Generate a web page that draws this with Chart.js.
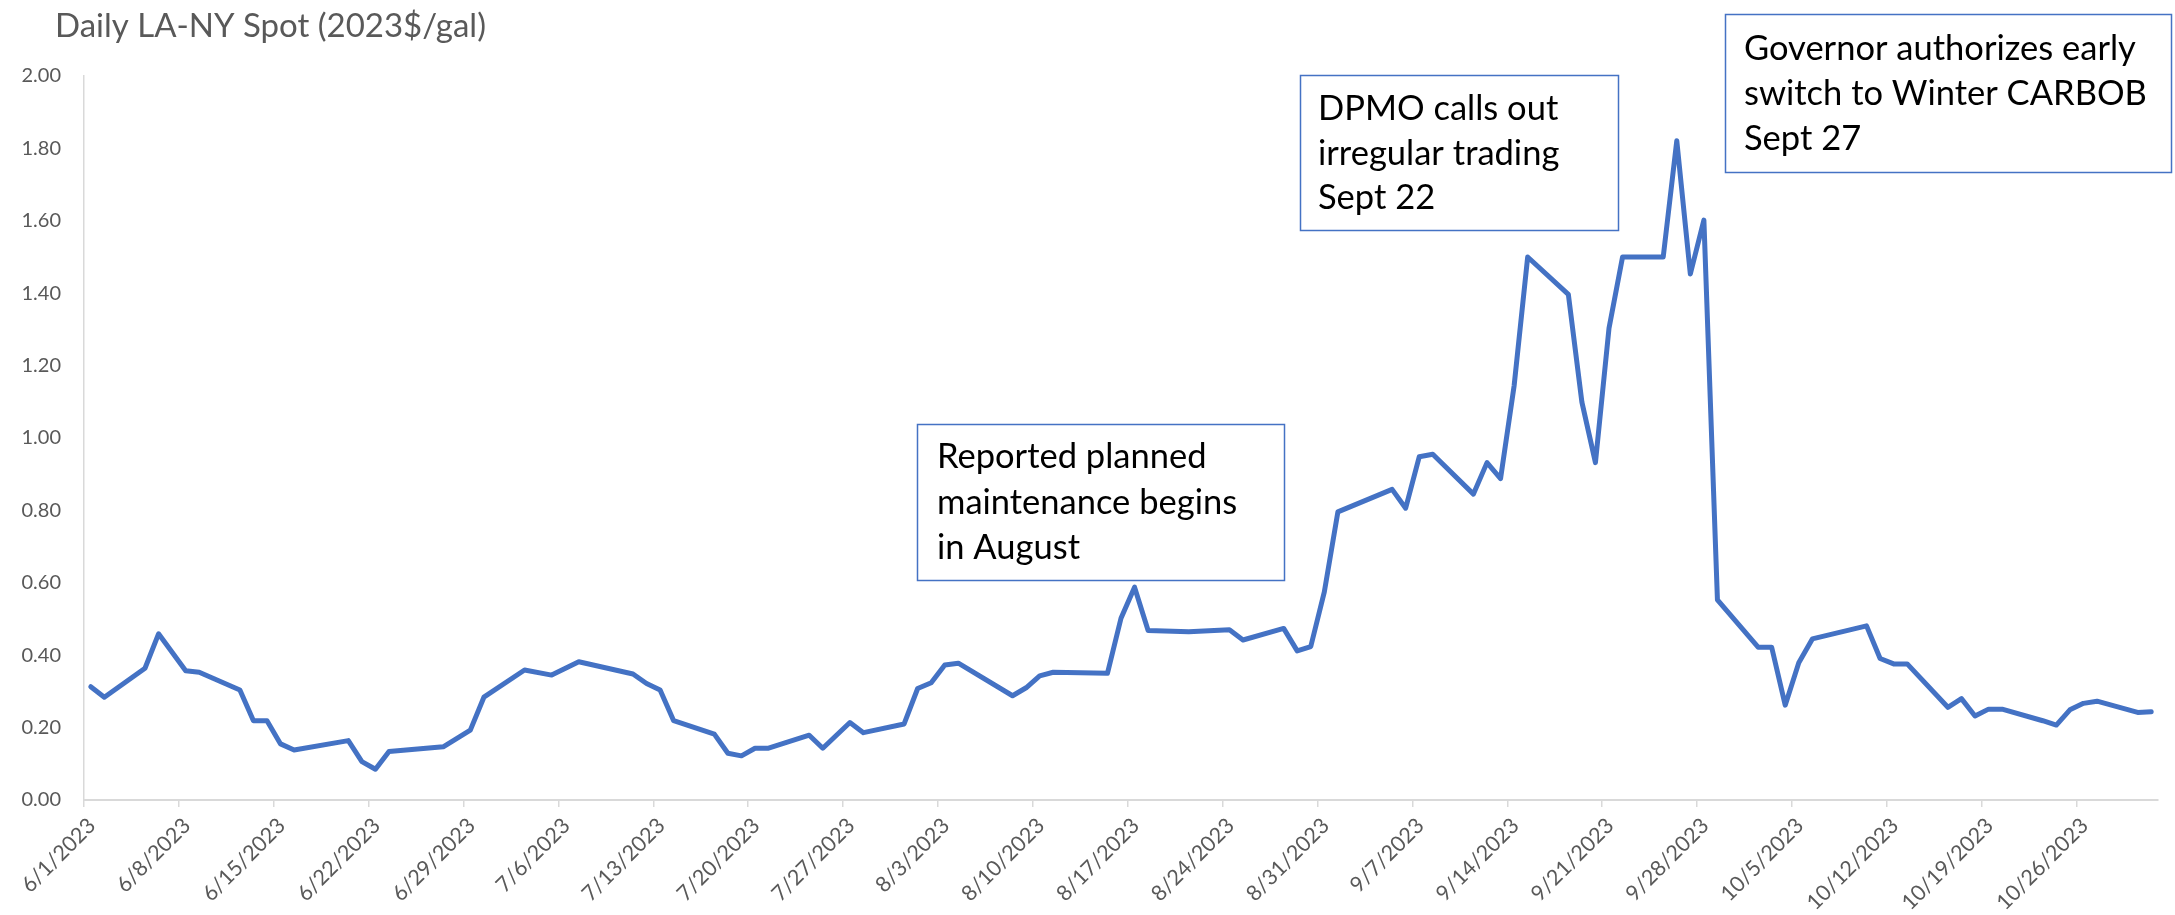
<!DOCTYPE html>
<html>
<head>
<meta charset="utf-8">
<script src="https://cdn.jsdelivr.net/npm/chart.js@4.4.1/dist/chart.umd.min.js"></script>
<style>
html,body{margin:0;padding:0;background:#ffffff;}
#wrap{width:2175px;height:915px;position:relative;}
</style>
</head>
<body>
<div id="wrap"><canvas id="c" width="2175" height="915"></canvas></div>
<script>
// ---------------- data ----------------
const chartTitle = 'Daily LA-NY Spot (2023$/gal)';

const dates = [
  '6/1','6/2','6/5','6/6','6/8','6/9','6/12','6/13','6/14','6/15','6/16','6/20','6/21','6/22','6/23','6/27','6/29','6/30',
  '7/3','7/5','7/7','7/11','7/12','7/13','7/14','7/17','7/18','7/19','7/20','7/21','7/24','7/25','7/27','7/28','7/31',
  '8/1','8/2','8/3','8/4','8/8','8/9','8/10','8/11','8/15','8/16','8/17','8/18','8/21','8/24','8/25','8/28','8/29','8/30','8/31',
  '9/1','9/5','9/6','9/7','9/8','9/11','9/12','9/13','9/14','9/15','9/18','9/19','9/20','9/21','9/22','9/25','9/26','9/27','9/28','9/29',
  '10/2','10/3','10/4','10/5','10/6','10/10','10/11','10/12','10/13','10/16','10/17','10/18','10/19','10/20','10/23','10/24','10/25','10/26','10/27','10/30','10/31'
];

const spotValues = [
  0.313,0.284,0.364,0.459,0.357,0.353,0.304,0.219,0.219,0.155,0.138,0.164,0.106,0.085,0.134,0.147,0.193,0.284,
  0.359,0.345,0.382,0.348,0.322,0.304,0.219,0.182,0.129,0.122,0.143,0.143,0.179,0.143,0.214,0.186,0.210,
  0.308,0.324,0.373,0.378,0.288,0.310,0.343,0.353,0.350,0.502,0.588,0.468,0.465,0.470,0.442,0.474,0.412,0.424,0.575,
  0.796,0.858,0.806,0.948,0.955,0.845,0.932,0.888,1.144,1.500,1.397,1.099,0.932,1.303,1.500,1.500,1.821,1.453,1.602,0.553,
  0.422,0.422,0.262,0.379,0.445,0.481,0.391,0.376,0.376,0.256,0.280,0.232,0.251,0.251,0.219,0.207,0.249,0.267,0.273,0.242,0.244
];

const tickLabels = [
  '6/1/2023','6/8/2023','6/15/2023','6/22/2023','6/29/2023','7/6/2023','7/13/2023','7/20/2023','7/27/2023',
  '8/3/2023','8/10/2023','8/17/2023','8/24/2023','8/31/2023','9/7/2023','9/14/2023','9/21/2023','9/28/2023',
  '10/5/2023','10/12/2023','10/19/2023','10/26/2023'
];

const startDate = '6/1';
const endDate = '10/31';

const noteTexts = [
  ['Reported planned', 'maintenance begins', 'in August'],
  ['DPMO calls out', 'irregular trading', 'Sept 22'],
  ['Governor authorizes early', 'switch to Winter CARBOB', 'Sept 27']
];

// ---------------- helpers ----------------
function dayIndex(md) {
  const [m, d] = md.split('/').map(Number);
  const [m0, d0] = startDate.split('/').map(Number);
  const t = Date.UTC(2023, m - 1, d) - Date.UTC(2023, m0 - 1, d0);
  return Math.round(t / 86400000);
}
const points = dates.map((d, i) => ({ x: dayIndex(d), y: spotValues[i] }));
const lastDay = dayIndex(endDate);

// ---------------- styles / layout ----------------
const FONT = 'Lato, "Open Sans", "DejaVu Sans", sans-serif';
const GRAY = '#595959';
const AXIS = '#d9d9d9';
const BLUE = '#4472C4';

const notePlacement = [
  { x: 917,  y: 424, w: 367, h: 156, tx: 937,  base: [468, 514, 559] },
  { x: 1300, y: 75,  w: 318, h: 155, tx: 1318, base: [120, 165, 209] },
  { x: 1725, y: 14,  w: 446, h: 158, tx: 1744, base: [60, 105, 150] }
];

const overlay = {
  id: 'overlay',
  afterDraw(chart) {
    const ctx = chart.ctx;
    ctx.save();
    // title
    ctx.fillStyle = GRAY;
    ctx.font = '33px ' + FONT;
    ctx.textAlign = 'left';
    ctx.textBaseline = 'alphabetic';
    ctx.fillText(chartTitle, 55, 37);
    // note boxes
    noteTexts.forEach((lines, i) => {
      const p = notePlacement[i];
      ctx.fillStyle = '#ffffff';
      ctx.fillRect(p.x, p.y, p.w, p.h);
      ctx.strokeStyle = BLUE;
      ctx.lineWidth = 1.5;
      ctx.strokeRect(p.x + 0.5, p.y + 0.5, p.w, p.h);
      ctx.fillStyle = '#000000';
      ctx.font = '34.5px ' + FONT;
      lines.forEach((ln, j) => ctx.fillText(ln, p.tx, p.base[j]));
    });
    ctx.restore();
  }
};

new Chart(document.getElementById('c'), {
  type: 'line',
  data: {
    datasets: [{
      data: points,
      borderColor: BLUE,
      borderWidth: 5,
      borderJoinStyle: 'round',
      borderCapStyle: 'round',
      pointRadius: 0,
      tension: 0,
      fill: false
    }]
  },
  options: {
    responsive: false,
    animation: false,
    devicePixelRatio: 1,
    parsing: false,
    layout: { padding: { top: 76, right: 17, left: 0, bottom: 0 } },
    plugins: { legend: { display: false }, tooltip: { enabled: false }, title: { display: false } },
    scales: {
      x: {
        type: 'linear',
        min: -0.5,
        max: lastDay + 0.5,
        afterBuildTicks(scale) {
          scale.ticks = tickLabels.map((t, i) => ({ value: i * 7 - 0.5 }));
        },
        afterFit(scale) {
          scale.height = 115;
          scale.paddingLeft = 0;
          scale.paddingRight = 0;
        },
        ticks: {
          autoSkip: false,
          maxRotation: 45,
          minRotation: 45,
          labelOffset: 8,
          padding: 6,
          color: GRAY,
          font: { family: FONT, size: 21.5 },
          callback(value, index) { return tickLabels[index]; }
        },
        grid: { drawOnChartArea: false, drawTicks: true, tickLength: 7, color: AXIS, lineWidth: 1.5 },
        border: { display: true, color: AXIS, width: 2 }
      },
      y: {
        min: 0,
        max: 2,
        afterFit(scale) { scale.width = 84; },
        ticks: {
          stepSize: 0.2,
          padding: 23,
          color: GRAY,
          font: { family: FONT, size: 20 },
          callback(v) { return v.toFixed(2); }
        },
        grid: { drawOnChartArea: false, drawTicks: false },
        border: { display: true, color: AXIS, width: 1.5 }
      }
    }
  },
  plugins: [overlay]
});
</script>
</body>
</html>
